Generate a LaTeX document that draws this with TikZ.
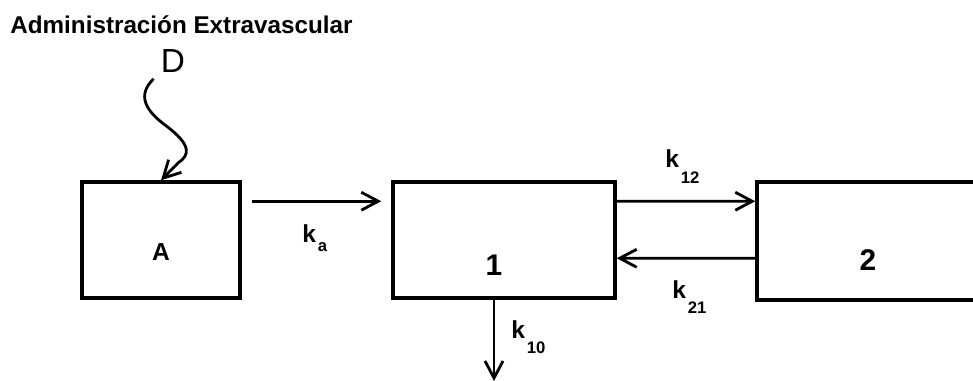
\documentclass[tikz,border=0pt]{standalone}
\usepackage{fontspec}
\setmainfont{Liberation Sans}
\usetikzlibrary{positioning,calc,arrows.meta}

\tikzset{
  compbox/.style={draw, line width=2pt, minimum width=4.44cm, minimum height=2.32cm, inner sep=0pt},
  flow/.style={line width=1.6pt, -{Straight Barb[length=3.4mm,width=3.6mm]}},
  rate/.style={font=\fontsize{14}{14}\selectfont\bfseries, inner sep=0pt},
  cnum/.style={font=\fontsize{17}{17}\selectfont\bfseries},
}
\newcommand{\kk}[2][1pt]{k\kern1pt\raisebox{\dimexpr-\height-#1\relax}{\fontsize{9.5}{10}\selectfont\bfseries #2}}

\begin{document}
\begin{tikzpicture}[x=0.02cm, y=-0.02cm]
  \useasboundingbox (0,0) rectangle (973,381);
  \clip (0,0) rectangle (973,381);

  % Title and dose
  \node[anchor=west, inner sep=0pt, font=\fontsize{13.8}{14}\selectfont\bfseries] (title) at (10,25) {Administración Extravascular};
  \node[inner sep=0pt, font=\fontsize{19}{19}\selectfont] (dose) at (173,61) {D};

  % Compartments
  \node[compbox, minimum width=3.16cm, label={[yshift=-0.24cm, font=\fontsize{14}{14}\selectfont\bfseries]center:A}] (boxA) at (161,240) {};
  \node[compbox, label={[xshift=-0.2cm, yshift=-0.5cm, cnum]center:1}] (box1) at (504,240) {};
  \node[compbox, minimum height=2.36cm, label={[yshift=-0.38cm, cnum]center:2}] (box2) at (868,241) {};
  \coordinate (elim) at (494,381);

  % Dose input
  \draw[flow] ([shift={(-7,6)}]dose.south west) .. controls (137,95) and (145,110) .. (165,125)
    .. controls (192,145) and (190,155) .. (178,163) -- (boxA.north);

  % Transfers
  \draw[flow] ($(boxA.north east)+(10,21)$) -- ($(box1.north west)+(-10,21)$);
  \draw[flow] ($(box1.north east)+(0,21)$) -- ($(box2.north west)+(0,21)$);
  \draw[flow] ($(box2.north west)+(0,78)$) -- ($(box1.north east)+(0,78)$);
  \draw[flow] (box1.south -| elim) -- (elim);

  % Rate constants
  \node[rate, anchor=base west] (ka) at (302,243) {\kk[0pt]{a}};
  \node[rate, anchor=base west] (k12) at (665,168) {\kk[2pt]{12}};
  \node[rate, anchor=base west] (k21) at (672,298) {\kk[2pt]{21}};
  \node[rate, anchor=base west] (k10) at (511,338) {\kk[2pt]{10}};
\end{tikzpicture}
\end{document}
